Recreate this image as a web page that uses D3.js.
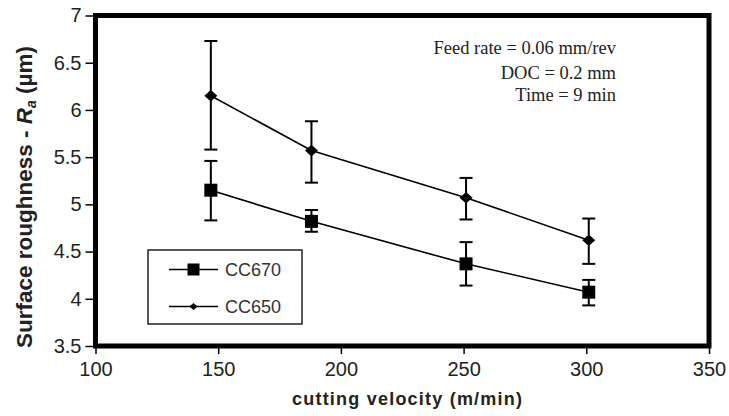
<!DOCTYPE html>
<html>
<head>
<meta charset="utf-8">
<script src="https://cdn.jsdelivr.net/npm/d3@7"></script>
<style>
  html, body { margin: 0; padding: 0; background: #fff; }
  svg { display: block; }
</style>
</head>
<body>
<svg id="chart" width="729" height="416"></svg>
<script>
// ---- data ----
const velocity = [147, 188, 251, 301];
const cc670 = [5.15, 4.82, 4.37, 4.07];
const cc670Hi = [5.46, 4.94, 4.60, 4.20];
const cc670Lo = [4.83, 4.71, 4.14, 3.93];
const cc650 = [6.15, 5.57, 5.07, 4.62];
const cc650Hi = [6.73, 5.88, 5.28, 4.85];
const cc650Lo = [5.58, 5.23, 4.84, 4.37];
const xTicks = [100, 150, 200, 250, 300, 350];
const yTicks = [3.5, 4, 4.5, 5, 5.5, 6, 6.5, 7];
const seriesNames = ['CC670', 'CC650'];
const notes = ['Feed rate = 0.06 mm/rev', 'DOC = 0.2 mm', 'Time = 9 min'];

const SANS = 'Arial, "Liberation Sans", Helvetica, sans-serif';
const SERIF = '"Times New Roman", "Liberation Serif", serif';

const svg = d3.select('#chart');
const x = d3.scaleLinear().domain([100, 350]).range([95.5, 709]);
const y = d3.scaleLinear().domain([3.5, 7]).range([346, 15.5]);

const series = [
  { name: seriesNames[0], shape: 'square', vals: cc670, hi: cc670Hi, lo: cc670Lo },
  { name: seriesNames[1], shape: 'diamond', vals: cc650, hi: cc650Hi, lo: cc650Lo },
];

// --- axes ---
const xAxis = svg.append('g').attr('transform', `translate(0,${y(3.5)})`)
  .call(d3.axisBottom(x).tickValues(xTicks).tickSize(8).tickSizeOuter(0).tickPadding(8).tickFormat(d3.format('d')));
const yAxis = svg.append('g').attr('transform', `translate(${x(100)},0)`)
  .call(d3.axisLeft(y).tickValues(yTicks).tickSize(10).tickSizeOuter(0).tickPadding(4).tickFormat(d => d));
[xAxis, yAxis].forEach(a => {
  a.select('.domain').remove();
  a.selectAll('.tick line').attr('stroke', '#000').attr('stroke-width', 1.5);
  a.selectAll('.tick text').attr('fill', '#222').style('font-family', SANS).style('font-size', '20px');
});

// frame
svg.append('rect')
  .attr('x', x(100)).attr('y', y(7))
  .attr('width', x(350) - x(100)).attr('height', y(3.5) - y(7))
  .attr('fill', 'none').attr('stroke', '#000').attr('stroke-width', 5);

// --- series ---
const line = d3.line().x(d => x(d[0])).y(d => y(d[1]));

function marker(g, shape, cx, cy, s) {
  if (shape === 'square') {
    g.append('rect').attr('x', cx - s / 2).attr('y', cy - s / 2)
      .attr('width', s).attr('height', s).attr('fill', '#000');
  } else {
    const w = s / 2, h = s * 0.45;
    g.append('path').attr('d', `M${cx},${cy - h}L${cx + w},${cy}L${cx},${cy + h}L${cx - w},${cy}Z`)
      .attr('fill', '#000');
  }
}

series.forEach(s => {
  const g = svg.append('g');
  const pts = velocity.map((v, i) => [v, s.vals[i]]);
  // error bars
  velocity.forEach((v, i) => {
    const cx = x(v);
    g.append('line').attr('x1', cx).attr('x2', cx).attr('y1', y(s.hi[i])).attr('y2', y(s.lo[i]))
      .attr('stroke', '#000').attr('stroke-width', 2);
    [s.hi[i], s.lo[i]].forEach(e => {
      g.append('line').attr('x1', cx - 6.5).attr('x2', cx + 6.5).attr('y1', y(e)).attr('y2', y(e))
        .attr('stroke', '#000').attr('stroke-width', 2);
    });
  });
  g.append('path').datum(pts).attr('d', line)
    .attr('fill', 'none').attr('stroke', '#000').attr('stroke-width', 1.6);
  pts.forEach(p => marker(g, s.shape, x(p[0]), y(p[1]), 13));
});

// --- legend ---
const leg = svg.append('g');
leg.append('rect').attr('x', 148).attr('y', 250).attr('width', 154).attr('height', 74)
  .attr('fill', '#fff').attr('stroke', '#222').attr('stroke-width', 1.5);
series.forEach((s, i) => {
  const ly = 269.5 + i * 37;
  leg.append('line').attr('x1', 169).attr('x2', 218).attr('y1', ly).attr('y2', ly)
    .attr('stroke', '#000').attr('stroke-width', 1.5);
  marker(leg, s.shape, 193.5, ly, s.shape === 'square' ? 12 : 8);
  leg.append('text').attr('x', 225).attr('y', ly + 6.5)
    .style('font-family', SANS).style('font-size', '18px').attr('fill', '#333')
    .text(s.name);
});

// --- annotation ---
notes.forEach((t, i) => {
  svg.append('text').attr('x', 616).attr('y', [54.3, 78.5, 100.5][i])
    .attr('text-anchor', 'end')
    .style('font-family', SERIF).style('font-size', '18.5px').attr('fill', '#222')
    .text(t);
});

// --- axis titles ---
svg.append('text').attr('x', 407).attr('y', 405).attr('text-anchor', 'middle')
  .style('font-family', SANS).style('font-size', '18px').style('font-weight', 'bold').attr('fill', '#222')
  .attr('textLength', 230).attr('lengthAdjust', 'spacing')
  .text('cutting velocity (m/min)');

const yl = svg.append('text')
  .attr('transform', 'translate(32,197) rotate(-90)')
  .attr('text-anchor', 'middle')
  .style('font-family', SANS).style('font-size', '22.5px').style('font-weight', 'bold').attr('fill', '#222');
yl.append('tspan').text('Surface roughness - ');
yl.append('tspan').style('font-style', 'italic').text('R');
yl.append('tspan').attr('dy', 4).style('font-size', '14px').style('font-style', 'italic').text('a');
yl.append('tspan').attr('dy', -4).text(' (\u00b5m)');
</script>
</body>
</html>
